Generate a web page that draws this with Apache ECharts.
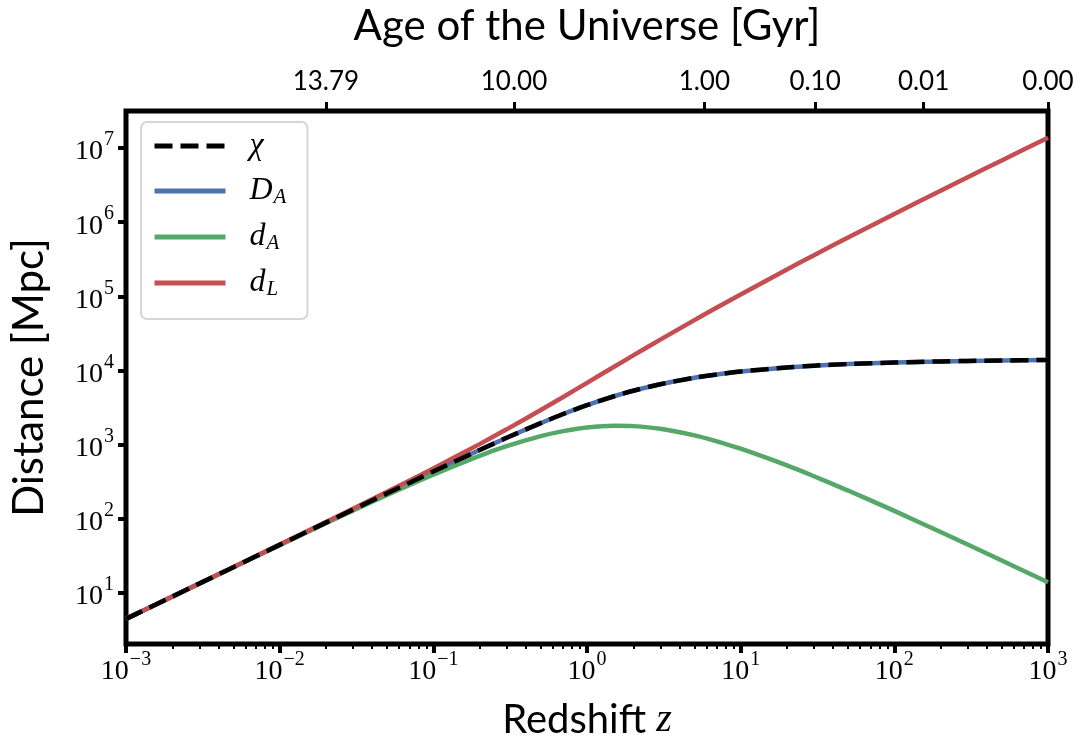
<!DOCTYPE html>
<html>
<head>
<meta charset="utf-8">
<script src="https://cdn.jsdelivr.net/npm/echarts@6/dist/echarts.min.js"></script>
<style>
html,body{margin:0;padding:0;background:#fff;}
#chart{width:1078px;height:745px;}
</style>
</head>
<body>
<div id="chart"></div>
<script>
// ---- data ----
const zValues   = [0.001, 0.002, 0.005, 0.01, 0.02, 0.05, 0.1, 0.2, 0.3, 0.5, 0.7, 1, 1.5, 2, 3, 5, 7, 10, 20, 30, 50, 100, 200, 300, 500, 1000];
const chiValues = [4.43, 8.85, 22.1, 44.2, 88.2, 219, 432, 843, 1232, 1946, 2579, 3396, 4479, 5311, 6508, 7953, 8820, 9647, 10970, 11580, 12180, 12780, 13230, 13420, 13610, 13820];
const DAValues  = [4.43, 8.85, 22.1, 44.2, 88.2, 219, 432, 843, 1232, 1946, 2579, 3396, 4479, 5311, 6508, 7953, 8820, 9647, 10970, 11580, 12180, 12780, 13230, 13420, 13610, 13820];
const dAValues  = [4.43, 8.83, 22.0, 43.8, 86.5, 209, 393, 703, 948, 1297, 1517, 1698, 1792, 1770, 1627, 1326, 1103, 877, 522, 373, 239, 127, 65.8, 44.6, 27.2, 13.8];
const dLValues  = [4.43, 8.87, 22.2, 44.6, 90.0, 230, 475, 1012, 1602, 2919, 4384, 6792, 11200, 15930, 26030, 47720, 70560, 106100, 230400, 359000, 621000, 1290800, 2659000, 4040000, 6820000, 13830000];

const xMajorExponents = [-3, -2, -1, 0, 1, 2, 3];
const yMajorExponents = [1, 2, 3, 4, 5, 6, 7];
const ageTickZ      = [0.02, 0.335, 5.8, 30.5, 155, 1000];
const ageTickLabels = ['13.79', '10.00', '1.00', '0.10', '0.01', '0.00'];

const seriesNames  = ['χ', 'D_A', 'd_A', 'd_L'];
const seriesColors = {'χ': '#000000', 'D_A': '#4c72b0', 'd_A': '#55a868', 'd_L': '#c44e52'};

const xMin = 0.001, xMax = 1000, yMin = 2.03, yMax = 3.17e7;

// minor tick positions (log10) for x axis
const xMinor = [];
for (let e = -3; e < 3; e++) for (let k = 2; k <= 9; k++) xMinor.push(e + Math.log10(k));

const pair = (arr) => zValues.map((z, i) => [z, arr[i]]);

const serifFont = "'Liberation Serif', 'DejaVu Serif', serif";
const sansFont = "Lato, 'Open Sans', sans-serif";

function powLabel(v) {
  const e = Math.round(v);
  const s = e < 0 ? '\u2212' + (-e) : String(e);
  return '{b|10}{s|' + s + '}';
}
const powRich = {
  b: {fontFamily: serifFont, fontSize: 28, color: '#000', lineHeight: 36, verticalAlign: 'bottom'},
  s: {fontFamily: serifFont, fontSize: 20, color: '#000', lineHeight: 36, verticalAlign: 'top', padding: [0, 0, 0, 1]}
};

const legendLabel = {
  'χ':   '{p|}{m|χ}',
  'D_A': '{p|}{m|D}{sub|A}',
  'd_A': '{p|}{m|d}{sub|A}',
  'd_L': '{p|}{m|d}{sub|L}'
};

const chart = echarts.init(document.getElementById('chart'), null, {renderer: 'canvas'});
const hiddenAxis = {axisLine: {show: false, onZero: false}, axisTick: {show: false}, axisLabel: {show: false}, splitLine: {show: false}};

const option = {
  animation: false,
  backgroundColor: '#fff',
  grid: {left: 125, right: 30, top: 106, bottom: 89, show: true, borderColor: '#000', borderWidth: 5, backgroundColor: 'transparent', containLabel: false},
  legend: {
    orient: 'vertical', left: 141, top: 122,
    data: seriesNames,
    backgroundColor: '#fff', borderColor: '#d6d6d6', borderWidth: 2, borderRadius: 6,
    padding: [8, 21, 19, 11],
    itemWidth: 71, itemHeight: 14, itemGap: 13,
    itemStyle: {opacity: 0, borderWidth: 0},
    lineStyle: {width: 5},
    formatter: (name) => legendLabel[name],
    textStyle: {
      rich: {
        p: {width: 19},
        m: {fontFamily: serifFont, fontStyle: 'italic', fontSize: 32, color: '#000', lineHeight: 34},
        sub: {fontFamily: serifFont, fontStyle: 'italic', fontSize: 21, color: '#000', lineHeight: 16, verticalAlign: 'bottom', padding: [0, 0, 0, 1]}
      }
    }
  },
  xAxis: [
    Object.assign({type: 'log', logBase: 10, min: xMin, max: xMax, gridIndex: 0, position: 'bottom'}, hiddenAxis),
    {
      type: 'value', min: -3, max: 3, gridIndex: 0, position: 'bottom',
      axisLine: {show: false, onZero: false}, splitLine: {show: false},
      axisTick: {show: true, inside: false, length: 9, customValues: xMajorExponents, lineStyle: {color: '#000', width: 4}},
      axisLabel: {show: true, margin: 6, customValues: xMajorExponents, formatter: powLabel, rich: powRich},
      name: '{t|Redshift }{z|z}', nameLocation: 'middle', nameGap: 56,
      nameTextStyle: {rich: {
        t: {fontFamily: sansFont, fontSize: 40, color: '#000'},
        z: {fontFamily: serifFont, fontStyle: 'italic', fontSize: 40, color: '#000'}
      }}
    },
    {
      type: 'value', min: -3, max: 3, gridIndex: 0, position: 'bottom',
      axisLine: {show: false, onZero: false}, splitLine: {show: false}, axisLabel: {show: false},
      axisTick: {show: true, inside: false, length: 5, customValues: xMinor, lineStyle: {color: '#000', width: 2}}
    },
    {
      type: 'value', min: -3, max: 3, gridIndex: 0, position: 'top',
      axisLine: {show: false, onZero: false}, splitLine: {show: false},
      axisTick: {show: true, inside: false, length: 9, customValues: ageTickZ.map(Math.log10), lineStyle: {color: '#000', width: 3}},
      axisLabel: {
        show: true, margin: 16, customValues: ageTickZ.map(Math.log10),
        fontFamily: sansFont, fontSize: 26, color: '#000',
        formatter: (v) => {
          for (let i = 0; i < ageTickZ.length; i++) if (Math.abs(Math.log10(ageTickZ[i]) - v) < 1e-6) return ageTickLabels[i];
          return '';
        }
      },
      name: 'Age of the Universe [Gyr]', nameLocation: 'middle', nameGap: 64,
      nameTextStyle: {fontFamily: sansFont, fontSize: 42, color: '#000'}
    }
  ],
  yAxis: [
    Object.assign({type: 'log', logBase: 10, min: yMin, max: yMax, gridIndex: 0}, hiddenAxis),
    {
      type: 'value', min: Math.log10(yMin), max: Math.log10(yMax), gridIndex: 0, position: 'left',
      axisLine: {show: false, onZero: false}, splitLine: {show: false},
      axisTick: {show: true, inside: false, length: 8, customValues: yMajorExponents, lineStyle: {color: '#000', width: 4}},
      axisLabel: {show: true, margin: 12, customValues: yMajorExponents, formatter: powLabel, rich: powRich},
      name: 'Distance [Mpc]', nameLocation: 'middle', nameGap: 76, nameRotate: 90,
      nameTextStyle: {fontFamily: sansFont, fontSize: 42, color: '#000'}
    }
  ],
  series: [
    {name: 'D_A', type: 'line', xAxisIndex: 0, yAxisIndex: 0, data: pair(DAValues), symbol: 'none', smooth: 0.3, lineStyle: {color: seriesColors['D_A'], width: 4.5}, itemStyle: {color: seriesColors['D_A']}},
    {name: 'd_A', type: 'line', xAxisIndex: 0, yAxisIndex: 0, data: pair(dAValues), symbol: 'none', smooth: 0.3, lineStyle: {color: seriesColors['d_A'], width: 4.5}, itemStyle: {color: seriesColors['d_A']}},
    {name: 'd_L', type: 'line', xAxisIndex: 0, yAxisIndex: 0, data: pair(dLValues), symbol: 'none', smooth: 0.3, lineStyle: {color: seriesColors['d_L'], width: 4.5}, itemStyle: {color: seriesColors['d_L']}},
    {name: 'χ', type: 'line', xAxisIndex: 0, yAxisIndex: 0, data: pair(chiValues), symbol: 'none', smooth: 0.3, lineStyle: {color: seriesColors['χ'], width: 4.5, type: [18, 8]}, itemStyle: {color: seriesColors['χ']}}
  ]
};
chart.setOption(option);
</script>
</body>
</html>
